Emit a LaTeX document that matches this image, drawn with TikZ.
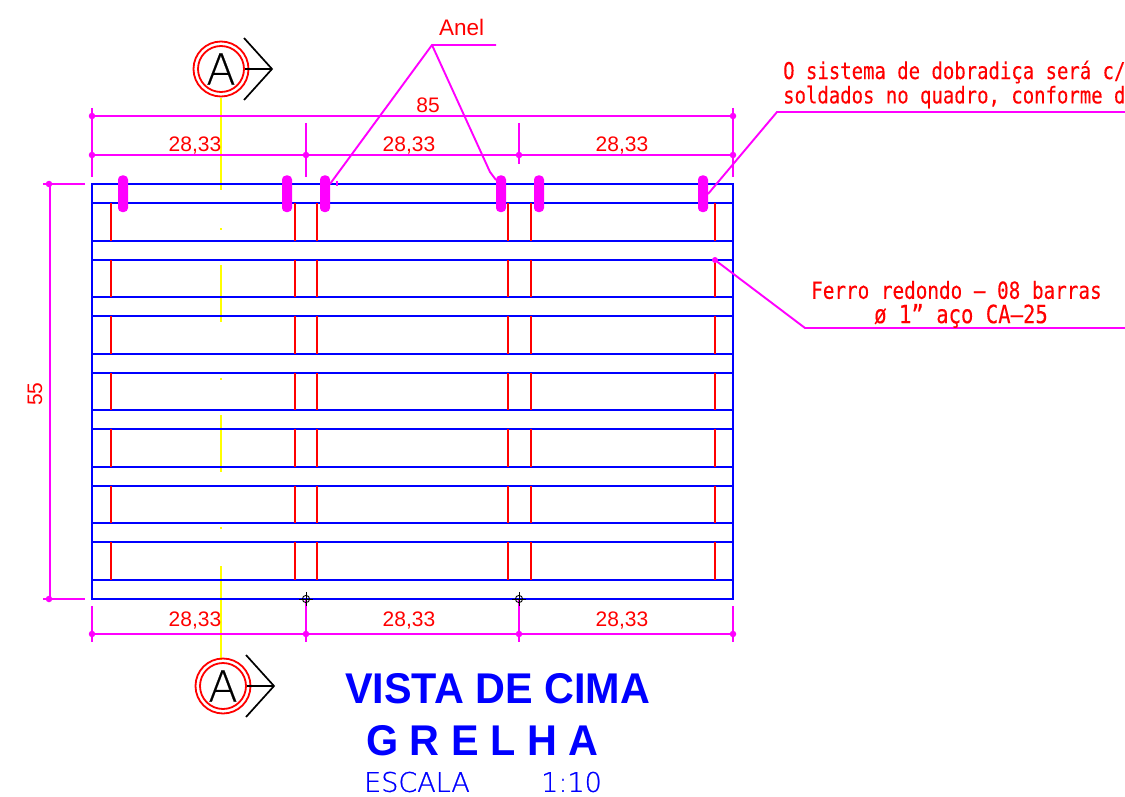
\documentclass[tikz,border=0pt]{standalone}
\usepackage{fontspec}
\setmainfont{Liberation Sans}
\newfontfamily\monof[FakeBold=0.25]{DejaVu Sans Mono}
\newfontfamily\lightf[FakeBold=0.4]{DejaVu Sans ExtraLight}
\newfontfamily\lightb[FakeBold=0.8]{DejaVu Sans ExtraLight}
\definecolor{cadmag}{RGB}{255,0,255}
\definecolor{cadblue}{RGB}{0,0,255}
\definecolor{cadred}{RGB}{255,0,0}
\definecolor{cadyel}{RGB}{255,255,0}
\newcommand{\cadnote}[2][18.95]{\scalebox{1}[1.22]{\monof\fontsize{#1}{#1}\selectfont #2}}
\tikzset{
  bluel/.style={draw=cadblue,line width=2.1pt},
  redl/.style={draw=cadred,line width=1.8pt},
  mag/.style={draw=cadmag,line width=1.9pt},
  ring/.style={draw=none,fill=cadmag,rounded corners=4pt},
  dimdot/.style={circle,fill=cadmag,inner sep=0pt,minimum size=6.5pt},
  dimtxt/.style={text=cadred,font=\fontsize{21}{21}\selectfont,inner sep=0pt},
  notetxt/.style={text=cadred,anchor=west,inner sep=0pt},
  secc/.style={draw=cadred,line width=1.8pt},
  chev/.style={draw=black,line width=1.7pt},
  secA/.style={font=\lightf\fontsize{43}{43}\selectfont,inner sep=0pt,text=black},
  tittxt/.style={text=cadblue,font=\bfseries\fontsize{43}{43}\selectfont,anchor=west,inner sep=0pt},
  esctxt/.style={text=cadblue,font=\lightb\fontsize{27}{27}\selectfont,anchor=west,inner sep=0pt},
}
\begin{document}
\begin{tikzpicture}[x=1pt,y=-1pt]
\clip (0,0) rectangle (1125,797);
\fill[white] (0,0) rectangle (1125,797);
% yellow section line
\foreach \a/\b in {98/190,228/230,265/322,378/380,415/472,527/529,566/660}
  \draw[cadyel,line width=1.9pt] (221,\a) -- (221,\b);
% frame and bars
\foreach \y in {184,203,241,260,297,316,354,373,410,429,467,486,523,542,580,599}
  \draw[bluel] (92,\y) -- (733,\y);
\draw[bluel] (92,184) rectangle (733,599);
\draw[cadblue,line width=2.8pt] (325,184) -- (703,184);
% red rods
\foreach \x in {111,295,317,508,531,715}
  \foreach \a/\b in {203/241,260/297,316/354,373/410,429/467,486/523,542/580}
    \draw[redl] (\x,\a) -- (\x,\b);
% hinge rings
\foreach \x in {123,287,325,501,539,703}
  \fill[ring] (\x-5,175.5) rectangle (\x+5,212);
% dimensions top
\draw[mag] (92,116) -- (733,116);
\draw[mag] (92,155) -- (733,155);
\draw[mag] (92,108) -- (92,177);
\draw[mag] (733,108) -- (733,177);
\draw[mag] (306,123) -- (306,177);
\draw[mag] (519,123) -- (519,164);
\foreach \p in {(92,116),(733,116),(92,155),(306,155),(519,155),(733,155)}
  \node[dimdot] at \p {};
\node[dimtxt] (d85) at (428,105) {85};
\node[dimtxt] (t1) at (195,146) {28,33};
\node[dimtxt] (t2) at (409,146) {28,33};
\node[dimtxt] (t3) at (622,146) {28,33};
% dimensions bottom
\draw[mag] (92,634) -- (733,634);
\draw[mag] (92,606) -- (92,642);
\draw[mag] (306,599) -- (306,642);
\draw[mag] (519,599) -- (519,642);
\draw[mag] (733,606) -- (733,642);
\foreach \p in {(92,634),(306,634),(519,634),(733,634)}
  \node[dimdot] at \p {};
\node[dimtxt] (b1) at (195,621) {28,33};
\node[dimtxt] (b2) at (409,621) {28,33};
\node[dimtxt] (b3) at (622,621) {28,33};
% dimension left
\draw[mag] (50,184) -- (50,599);
\draw[mag] (43,184) -- (85,184);
\draw[mag] (43,599) -- (85,599);
\node[dimdot] at (49,184) {};
\node[dimdot] at (49,599) {};
\node[dimtxt,rotate=90] (d55) at (35,394) {55};
% small markers
\foreach \x in {306,519}{
  \draw[black,line width=0.9pt] (\x,599) circle (3.6);
  \draw[black,line width=0.9pt] (\x-7,599) -- (\x+7,599) (\x,592) -- (\x,606);
}
% Anel leaders
\node[dimtxt,anchor=west,font=\fontsize{22.5}{22.5}\selectfont] (anel) at (439,27) {Anel};
\coordinate (ak) at (432,45);
\draw[mag] (496,45) -- (ak) -- (330,184);
\draw[mag] (ak) -- (490,172) -- (496,180);
\draw[mag] (337,181) -- (337,186);
% notes
\coordinate (n1) at (777,112);
\draw[mag] (1125,112) -- (n1) -- (708,194);
\node[notetxt] (note1) at (783,72) {\cadnote{O sistema de dobradiça será c/}};
\node[notetxt] (note2) at (783,97) {\cadnote{soldados no quadro, conforme d}};
\coordinate (n2) at (805,328);
\draw[mag] (1125,328) -- (n2) -- (715,260);
\fill[cadmag] (715,260) circle (3);
\node[notetxt] (note3) at (811,290) {\cadnote[19.3]{Ferro redondo — 08 barras}};
\node[notetxt] (note4) at (874,316) {\cadnote[20.6]{ø 1” aço CA—25}};
% section marks
\foreach \cx/\cy in {221/69,223/686}{
  \draw[secc] (\cx,\cy) circle (27.5);
  \draw[secc] (\cx,\cy) circle (23);
  \node[secA] at (\cx,\cy) {A};
  \draw[chev] (\cx+23,\cy-31) -- (\cx+51,\cy) -- (\cx+23,\cy+31);
  \draw[chev] (\cx+24,\cy) -- (\cx+51,\cy);
}
% titles
\node[tittxt] (tit1) at (345,689) {\scalebox{.962}[1]{VISTA DE CIMA}};
\node[tittxt] (tit2) at (366,741) {\scalebox{.962}[1]{G R E L H A}};
\node[esctxt] (esc) at (364,782) {ESCALA};
\node[esctxt] (esc2) at (541,782) {1:10};
\end{tikzpicture}
\end{document}
